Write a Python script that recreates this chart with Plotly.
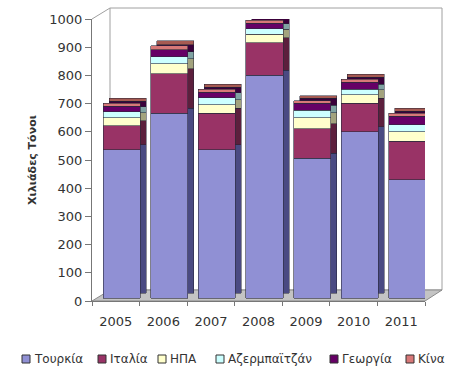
import plotly.graph_objects as go

# ---- data ----
years = ["2005", "2006", "2007", "2008", "2009", "2010", "2011"]
series_names = ["Τουρκία", "Ιταλία", "ΗΠΑ", "Αζερμπαϊτζάν", "Γεωργία", "Κίνα"]
turkey = [525, 655, 525, 790, 495, 590, 420]
italy = [85, 140, 130, 115, 105, 100, 135]
usa = [30, 35, 30, 30, 40, 30, 35]
azerbaijan = [20, 25, 25, 20, 25, 20, 25]
georgia = [20, 25, 20, 20, 25, 25, 30]
china = [10, 15, 10, 10, 10, 10, 10]
y_title = "Χιλιάδες Τόνοι"

values = [turkey, italy, usa, azerbaijan, georgia, china]

# ---- styles ----
front_colors = ["#9090d4", "#993366", "#ffffcc", "#ccffff", "#660066", "#d87878"]
side_colors = ["#4a4a82", "#5c1f3d", "#a3a37e", "#80a3a3", "#3a003a", "#a65a52"]

W, H = 452, 376
L, R, T, B = 92, 27, 19, 75
plot_w = W - L - R
plot_h = H - T - B
ncat = len(years)
px_per_cat = plot_w / ncat
px_per_unit = plot_h / 1000.0


def shifted(dx_px, dy_px):
    dx = dx_px / px_per_cat
    dy = dy_px / px_per_unit
    return [-0.5 - dx, ncat - 0.5 - dx], [0 - dy, 1000 - dy]


xr_front, yr_front = shifted(6, 3)
xr_side, yr_side = shifted(12, 8)

fig = go.Figure()

# invisible helper trace for the visible (main) axes
fig.add_trace(go.Scatter(x=list(range(ncat)), y=[0] * ncat, mode="markers",
                         marker=dict(opacity=0), hoverinfo="skip", showlegend=False))

# depth (side/top faces) drawn as offset copies behind the front faces
for name, vals, col in zip(series_names, values, side_colors):
    fig.add_trace(go.Bar(x=years, y=vals, name=name, xaxis="x2", yaxis="y2",
                         marker=dict(color=col, line=dict(color="#222233", width=0.5)),
                         showlegend=False, hoverinfo="skip"))

for name, vals, col in zip(series_names, values, front_colors):
    fig.add_trace(go.Bar(x=years, y=vals, name=name, xaxis="x3", yaxis="y3",
                         marker=dict(color=col, line=dict(color="#2a2a3a", width=0.6)),
                         showlegend=False))

hidden = dict(visible=False, fixedrange=True)

fig.update_layout(
    barmode="stack",
    bargap=0.22,
    width=W, height=H,
    margin=dict(l=L, r=R, t=T, b=B, autoexpand=False),
    paper_bgcolor="white",
    plot_bgcolor="rgba(0,0,0,0)",
    showlegend=False,
    font=dict(family="DejaVu Sans, Arial, sans-serif", size=13, color="#333"),
    xaxis=dict(
        range=[-0.5, ncat - 0.5],
        tickvals=list(range(ncat)), ticktext=years,
        showline=True, linecolor="#777", linewidth=1,
        ticks="", showgrid=False, zeroline=False,
        ticklabelstandoff=8,
        minor=dict(tickvals=[i - 0.5 for i in range(ncat + 1)], ticks="outside",
                   ticklen=4, tickcolor="#777"),
        tickfont=dict(size=13, color="#333"),
    ),
    yaxis=dict(
        range=[0, 1000], dtick=100,
        showline=True, linecolor="#777", linewidth=1,
        ticks="outside", ticklen=6, tickcolor="#777",
        showgrid=False, zeroline=False,
        tickfont=dict(size=13, color="#333"),
        title=dict(text=y_title, font=dict(size=11, weight="bold", color="#333"), standoff=10),
    ),
    xaxis2=dict(overlaying="x", type="category", range=xr_side, **hidden),
    yaxis2=dict(overlaying="y", range=yr_side, **hidden),
    xaxis3=dict(overlaying="x", type="category", range=xr_front, **hidden),
    yaxis3=dict(overlaying="y", range=yr_front, **hidden),
)


def px_x(p):
    return (p - L) / plot_w


def px_y(p):
    return (H - B - p) / plot_h


# back wall and floor of the 3D box
shapes = [
    dict(type="rect", xref="paper", yref="paper",
         x0=px_x(110), x1=px_x(442), y0=px_y(290), y1=px_y(8),
         line=dict(color="#a0a0a0", width=1), layer="below"),
    dict(type="line", xref="paper", yref="paper",
         x0=px_x(L), y0=px_y(T), x1=px_x(110), y1=px_y(8),
         line=dict(color="#a0a0a0", width=1), layer="below"),
    dict(type="path", xref="paper", yref="paper",
         path="M {a},{b} L {c},{b} L {d},{e} L {f},{e} Z".format(
             a=px_x(L), b=px_y(H - B), c=px_x(W - R), d=px_x(442), e=px_y(290), f=px_x(110)),
         fillcolor="#c4c4c4", line=dict(color="#8a8a8a", width=1), layer="below"),
]

# legend row
legend_sym_px = [22, 98, 158, 216, 330, 406]
legend_y_px = 359
annotations = []
for name, col, sx in zip(series_names, front_colors, legend_sym_px):
    shapes.append(dict(type="rect", xref="paper", yref="paper",
                       x0=px_x(sx), x1=px_x(sx + 8),
                       y0=px_y(legend_y_px + 4), y1=px_y(legend_y_px - 4),
                       fillcolor=col, line=dict(color="#333", width=1)))
    annotations.append(dict(xref="paper", yref="paper", x=px_x(sx + 10), y=px_y(legend_y_px),
                            xanchor="left", yanchor="middle", showarrow=False,
                            text=name, font=dict(size=12, color="#333")))

fig.update_layout(shapes=shapes, annotations=annotations)

fig.write_html("out.html")
